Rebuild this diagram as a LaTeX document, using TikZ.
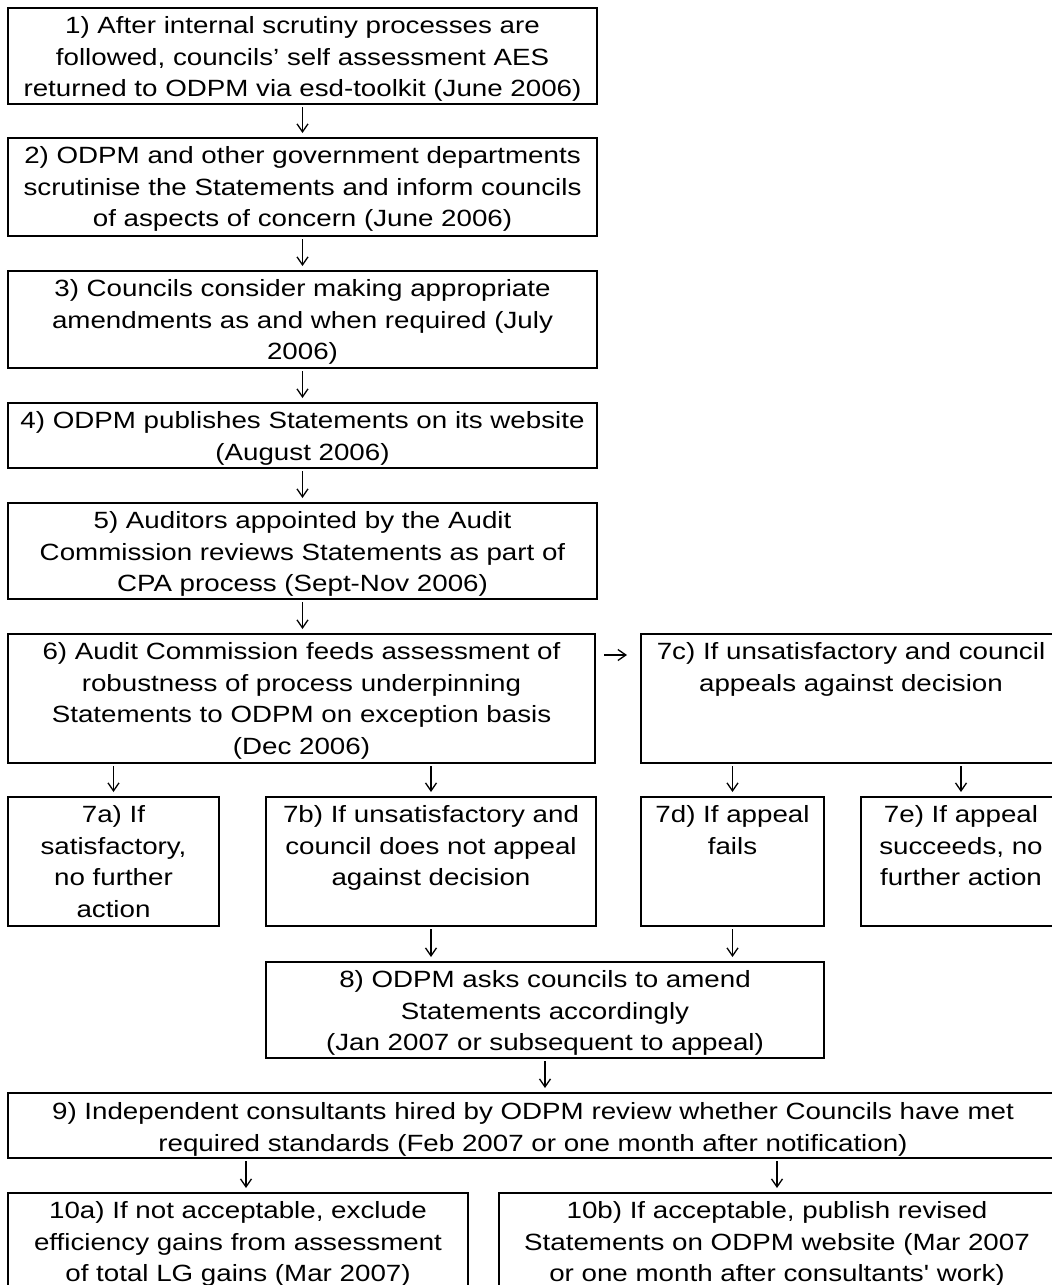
\documentclass[tikz,border=0pt]{standalone}
\usepackage{fontspec}
\setmainfont{Liberation Sans}[FakeStretch=1.18]
\newfontfamily\qfont[FakeStretch=1.18]{Liberation Sans}
\usetikzlibrary{arrows.meta}
\newcommand\fl{\rule{0pt}{25.5pt}}
\begin{document}
\begin{tikzpicture}[x=1pt,y=-1pt,
  box/.style={draw,line width=2.2pt,inner sep=0pt,outer sep=0pt,anchor=north west},
  txt/.style={anchor=north,inner sep=0pt,align=center,font=\fontsize{23.5}{31.5}\selectfont},
  arr/.style={line width=1.3pt,-{Straight Barb[length=8pt,width=11pt,line width=1.3pt]}}]
\useasboundingbox (0,0) rectangle (1052,1285);
\clip (0,0) rectangle (1052,1285);
\fill[white] (0,0) rectangle (1052,1285);
% boxes
\node[box,minimum width=589pt,minimum height=96pt] (b1) at (8,8) {};
\node[box,minimum width=589pt,minimum height=98pt] (b2) at (8,138) {};
\node[box,minimum width=589pt,minimum height=97pt] (b3) at (8,271) {};
\node[box,minimum width=589pt,minimum height=65pt] (b4) at (8,403) {};
\node[box,minimum width=589pt,minimum height=96pt] (b5) at (8,503) {};
\node[box,minimum width=587pt,minimum height=129pt] (b6) at (8,634) {};
\node[box,minimum width=420pt,minimum height=129pt] (b7c) at (641,634) {};
\node[box,minimum width=211pt,minimum height=129pt] (b7a) at (8,797) {};
\node[box,minimum width=330pt,minimum height=129pt] (b7b) at (266,797) {};
\node[box,minimum width=183pt,minimum height=129pt] (b7d) at (641,797) {};
\node[box,minimum width=200pt,minimum height=129pt] (b7e) at (861,797) {};
\node[box,minimum width=558pt,minimum height=96pt] (b8) at (266,962) {};
\node[box,minimum width=1050pt,minimum height=65pt] (b9) at (8,1093) {};
\node[box,minimum width=460pt,minimum height=110pt] (b10a) at (8,1193) {};
\node[box,minimum width=556pt,minimum height=110pt] (b10b) at (499,1193) {};
% texts
\node[txt] (t1) at (b1.north) {\fl1) After internal scrutiny processes are\\followed, councils’ self assessment AES\\returned to ODPM via esd-toolkit (June 2006)};
\node[txt] (t2) at (b2.north) {\fl2) ODPM and other government departments\\scrutinise the Statements and inform councils\\of aspects of concern (June 2006)};
\node[txt] (t3) at (b3.north) {\fl3) Councils consider making appropriate\\amendments as and when required (July\\2006)};
\node[txt] (t4) at (b4.north) {\fl4) ODPM publishes Statements on its website\\(August 2006)};
\node[txt] (t5) at (b5.north) {\fl5) Auditors appointed by the Audit\\Commission reviews Statements as part of\\CPA process (Sept-Nov 2006)};
\node[txt] (t6) at (b6.north) {\fl6) Audit Commission feeds assessment of\\robustness of process underpinning\\Statements to ODPM on exception basis\\(Dec 2006)};
\node[txt] (t7c) at (b7c.north) {\fl7c) If unsatisfactory and council\\appeals against decision};
\node[txt] (t7a) at (b7a.north) {\fl7a) If\\satisfactory,\\no further\\action};
\node[txt] (t7b) at (b7b.north) {\fl7b) If unsatisfactory and\\council does not appeal\\against decision};
\node[txt] (t7d) at (b7d.north) {\fl7d) If appeal\\fails};
\node[txt] (t7e) at (b7e.north) {\fl7e) If appeal\\succeeds, no\\further action};
\node[txt] (t8) at (b8.north) {\fl8) ODPM asks councils to amend\\Statements accordingly\\(Jan 2007 or subsequent to appeal)};
\node[txt] (t9) at ([yshift=-1pt]b9.north) {\fl9) Independent consultants hired by ODPM review whether Councils have met\\required standards (Feb 2007 or one month after notification)};
\node[txt] (t10a) at (b10a.north) {\fl10a) If not acceptable, exclude\\efficiency gains from assessment\\of total LG gains (Mar 2007)};
\node[txt] (t10b) at (b10b.north) {\fl10b) If acceptable, publish revised\\Statements on ODPM website (Mar 2007\\or one month after consultants{\qfont'} work)};
% connectors
\begin{scope}[shorten <=3pt,shorten >=5pt]
\draw[arr] (b1.south) -- (b2.north);
\draw[arr] (b2.south) -- (b3.north);
\draw[arr] (b3.south) -- (b4.north);
\draw[arr] (b4.south) -- (b5.north);
\draw[arr] (b5.south) -- (b6.north -| b5.south);
\draw[arr] (b6.south -| b7a.north) -- (b7a.north);
\draw[arr] (b6.south -| b7b.north) -- (b7b.north);
\draw[arr] (b7c.south -| b7d.north) -- (b7d.north);
\draw[arr] (b7c.south -| b7e.north) -- (b7e.north);
\draw[arr] (b7b.south) -- (b7b.south |- b8.north);
\draw[arr] (b7d.south) -- (b7d.south |- b8.north);
\draw[arr] (b8.south) -- (b8.south |- b9.north);
\coordinate (x10a) at (246,0);
\draw[arr] (b9.south -| x10a) -- (b10a.north -| x10a);
\draw[arr] (b9.south -| b10b.north) -- (b10b.north);
\end{scope}
\draw[arr,shorten <=9pt,shorten >=14pt] ([yshift=43.5pt]b6.east) -- ([yshift=43.5pt]b6.east -| b7c.west);
\end{tikzpicture}
\end{document}
